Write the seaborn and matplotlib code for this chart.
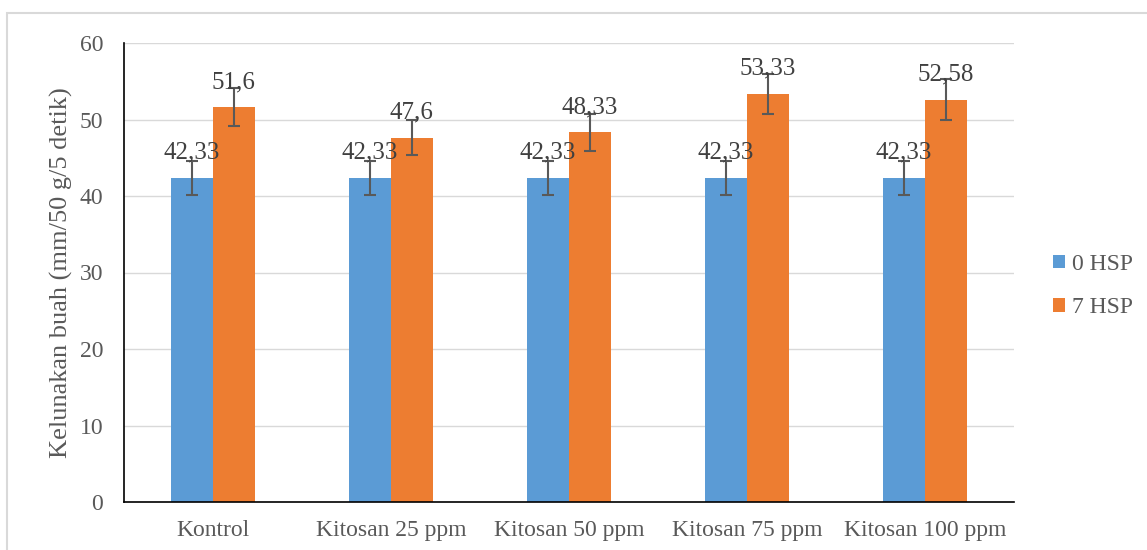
import matplotlib
matplotlib.use("Agg")
import matplotlib.pyplot as plt
import seaborn as sns
import pandas as pd
import numpy as np
from matplotlib.patches import Rectangle, Patch

categories = ["Kontrol", "Kitosan 25 ppm", "Kitosan 50 ppm", "Kitosan 75 ppm", "Kitosan 100 ppm"]
series_names = ["0 HSP", "7 HSP"]
values_0 = [42.33, 42.33, 42.33, 42.33, 42.33]
values_7 = [51.6, 47.6, 48.33, 53.33, 52.58]
err_0 = [2.2, 2.2, 2.2, 2.2, 2.2]
err_7 = [2.5, 2.3, 2.4, 2.65, 2.65]
labels_0 = ["42,33", "42,33", "42,33", "42,33", "42,33"]
labels_7 = ["51,6", "47,6", "48,33", "53,33", "52,58"]
yticks = [0, 10, 20, 30, 40, 50, 60]

sns.set_theme(style="white")
plt.rcParams['font.family'] = ['Liberation Serif', 'DejaVu Serif']

df = pd.DataFrame({
    "cat": categories * 2,
    "series": [series_names[0]] * 5 + [series_names[1]] * 5,
    "val": values_0 + values_7,
})

fig = plt.figure(figsize=(11.47, 5.5), dpi=100)
ax = fig.add_axes([124/1147, 1 - 502/550, (1014-124)/1147, (502-43)/550])

colors = ["#5B9BD5", "#ED7D31"]
sns.barplot(data=df, x="cat", y="val", hue="series", palette=colors, width=0.47,
            errorbar=None, ax=ax, legend=False, saturation=1, linewidth=0)

ax.set_ylim(0, 60)
ax.set_xlim(-0.5, 4.5)
ax.set_yticks(yticks)
ax.yaxis.grid(True, color="#D9D9D9", linewidth=1)
ax.set_axisbelow(True)
for s in ["top", "right"]:
    ax.spines[s].set_visible(False)
ax.spines["left"].set_color("black")
ax.spines["bottom"].set_color("black")
ax.spines["left"].set_linewidth(1.2)
ax.spines["bottom"].set_linewidth(1.2)
ax.tick_params(axis="both", length=0, labelsize=17, colors="#595959")
ax.tick_params(axis="y", pad=15)
ax.tick_params(axis="x", pad=13)
ax.set_xlabel("")
ax.set_ylabel("Kelunakan buah (mm/50 g/5 detik)", fontsize=19, color="#595959", labelpad=5)

# error bars and labels from bar patches
bars = [p for p in ax.patches if p.get_width() > 0]
bars0 = sorted(bars, key=lambda p: p.get_x())
xs = [p.get_x() + p.get_width()/2 for p in bars0]
hs = [p.get_height() for p in bars0]
errs = []
labs = []
for i in range(5):
    errs += [err_0[i], err_7[i]]
    labs += [labels_0[i], labels_7[i]]
ax.errorbar(xs, hs, yerr=errs, fmt="none", ecolor="#595959", elinewidth=1.5,
            capsize=4, capthick=1.5, zorder=3)
for x, h, t in zip(xs, hs, labs):
    ax.text(x, h + 3.3, t, ha="center", va="center", fontsize=18, color="#404040", zorder=4)

handles = [Patch(facecolor=c, edgecolor="none") for c in colors]
fig.legend(handles, series_names, loc="center left", bbox_to_anchor=(1053/1147, 1 - 286/550),
           frameon=False, fontsize=17, handlelength=0.5, handleheight=0.5,
           labelspacing=0.95, handletextpad=0.3, labelcolor="#595959", borderpad=0,
           borderaxespad=0)

fig.patches.append(Rectangle((7/1147, -0.1), 1.2, 1 - 13/550 + 0.1, transform=fig.transFigure,
                             fill=False, edgecolor="#D9D9D9", linewidth=1.5))

fig.savefig("out.png", dpi=100)
